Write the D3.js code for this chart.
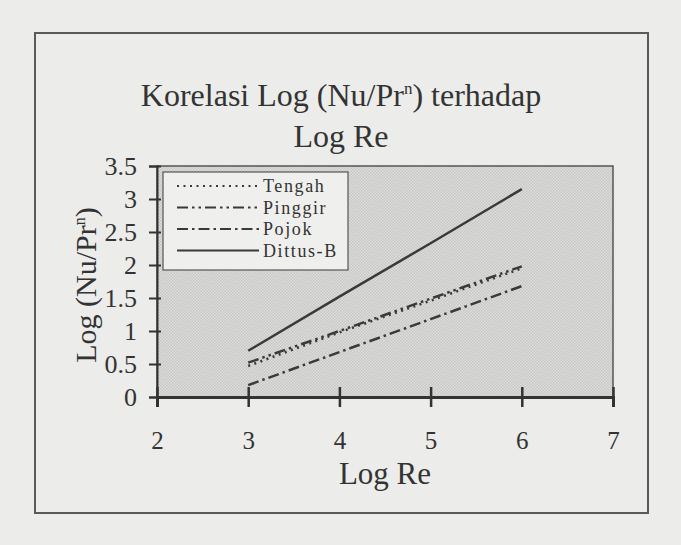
<!DOCTYPE html>
<html>
<head>
<meta charset="utf-8">
<script src="https://cdn.jsdelivr.net/npm/d3@7"></script>
<style>
  body { margin: 0; background: #ececea; }
  svg { display: block; }
  text { font-family: "Liberation Serif", "Times New Roman", serif; fill: #333; }
</style>
</head>
<body>
<script>
// log Re values
let logRe = [3, 4, 5, 6];
// log(Nu/Pr^n) for each series
let tengah = [0.47, 0.98, 1.46, 1.95];
let pinggir = [0.52, 1.0, 1.49, 1.98];
let pojok = [0.18, 0.68, 1.18, 1.68];
let dittus = [0.7, 1.52, 2.33, 3.15];

let seriesNames = ["Tengah", "Pinggir", "Pojok", "Dittus-B"];
let xTicks = [2, 3, 4, 5, 6, 7];
let yTicks = [0, 0.5, 1, 1.5, 2, 2.5, 3, 3.5];

function drawChart() {
  var w = 681, h = 545;
  var margin = { top: 166, left: 157, right: 68, bottom: 148 };
  var width = w - margin.left - margin.right,
      height = h - margin.top - margin.bottom;

  // dash patterns per series
  var dashes = ["2,4.5", "11,4,2.5,4,2.5,4", "11,4,2.5,4", null];
  var allSeries = [tengah, pinggir, pojok, dittus];

  var svg = d3.select("body").append("svg")
    .attr("width", w)
    .attr("height", h);

  // stippled fill for the plot area
  var pat = svg.append("defs").append("pattern")
    .attr("id", "stipple")
    .attr("width", 3).attr("height", 3)
    .attr("patternUnits", "userSpaceOnUse");
  pat.append("rect").attr("width", 3).attr("height", 3).attr("fill", "#dededc");
  pat.append("rect").attr("width", 1.5).attr("height", 1.5).attr("fill", "#c6c6c4");
  pat.append("rect").attr("x", 1.5).attr("y", 1.5).attr("width", 1.5).attr("height", 1.5).attr("fill", "#c6c6c4");

  // outer frame
  svg.append("rect")
    .attr("x", 35).attr("y", 33)
    .attr("width", 613).attr("height", 480)
    .attr("fill", "none")
    .attr("stroke", "#5a5a5a")
    .attr("stroke-width", 2);

  // title
  svg.append("text")
    .attr("x", 341).attr("y", 106)
    .attr("text-anchor", "middle")
    .style("font-size", "32px")
    .html('Korelasi Log (Nu/Pr<tspan dy="-12" font-size="17px">n</tspan><tspan dy="12">) terhadap</tspan>');
  svg.append("text")
    .attr("x", 341).attr("y", 147)
    .attr("text-anchor", "middle")
    .style("font-size", "32px")
    .text("Log Re");

  var x = d3.scaleLinear().domain([2, 7]).range([0, width]);
  var y = d3.scaleLinear().domain([0, 3.5]).range([height, 0]);

  var g = svg.append("g")
    .attr("transform", "translate(" + margin.left + "," + margin.top + ")");

  g.append("rect")
    .attr("width", width).attr("height", height)
    .attr("fill", "url(#stipple)")
    .attr("stroke", "#555")
    .attr("stroke-width", 1.5);

  // lines
  var line = d3.line()
    .x(function(d, i) { return x(logRe[i]); })
    .y(function(d) { return y(d); });

  g.selectAll("path.series")
    .data(allSeries)
    .enter()
    .append("path")
    .attr("class", "series")
    .attr("d", line)
    .attr("fill", "none")
    .attr("stroke", "#3a3a3a")
    .attr("stroke-width", 2.5)
    .attr("stroke-dasharray", function(d, i) { return dashes[i]; });

  // axes
  var yAxis = d3.axisLeft(y).tickValues(yTicks).tickSize(8).tickPadding(12)
    .tickFormat(function(d) { return d; });
  var ya = g.append("g").call(yAxis);
  ya.select(".domain").attr("stroke", "#333").attr("stroke-width", 2);
  ya.selectAll(".tick line").attr("x1", 4).attr("stroke", "#333").attr("stroke-width", 2);
  ya.selectAll(".tick text")
    .style("font-size", "26px")
    .attr("fill", "#333")
    .attr("dy", "0.34em");

  var xAxis = d3.axisBottom(x).tickValues(xTicks).tickSize(10)
    .tickFormat(function(d) { return d; });
  var xa = g.append("g")
    .attr("transform", "translate(0," + height + ")")
    .call(xAxis);
  xa.select(".domain").attr("stroke", "#333").attr("stroke-width", 3);
  xa.selectAll(".tick line").attr("y1", -10).attr("stroke", "#333").attr("stroke-width", 2.5);
  xa.selectAll(".tick text")
    .style("font-size", "25px")
    .attr("fill", "#333")
    .attr("y", 52)
    .attr("dy", 0);

  // axis titles
  g.append("text")
    .attr("x", width / 2).attr("y", height + 87)
    .attr("text-anchor", "middle")
    .style("font-size", "31px")
    .text("Log Re");

  g.append("text")
    .attr("transform", "translate(" + (96 - margin.left) + "," + (285 - margin.top) + ") rotate(-90)")
    .attr("text-anchor", "middle")
    .style("font-size", "30px")
    .html('Log (Nu/Pr<tspan dy="-11" font-size="16px">n</tspan><tspan dy="11">)</tspan>');

  // legend
  var leg = svg.append("g").attr("transform", "translate(163,172)");
  leg.append("rect")
    .attr("width", 185).attr("height", 98)
    .attr("fill", "#efefed")
    .attr("stroke", "#555")
    .attr("stroke-width", 1.2);

  var items = leg.selectAll("g.item")
    .data(seriesNames)
    .enter()
    .append("g")
    .attr("class", "item")
    .attr("transform", function(d, i) { return "translate(0," + (14 + i * 21.5) + ")"; });

  items.append("line")
    .attr("x1", 14).attr("x2", 96)
    .attr("stroke", "#3a3a3a")
    .attr("stroke-width", 2.2)
    .attr("stroke-dasharray", function(d, i) { return dashes[i]; });

  items.append("text")
    .attr("x", 100).attr("y", 6)
    .style("font-size", "18px")
    .style("letter-spacing", "1.6px")
    .text(function(d) { return d; });
}

window.onload = function() {
  drawChart();
};
</script>
</body>
</html>
